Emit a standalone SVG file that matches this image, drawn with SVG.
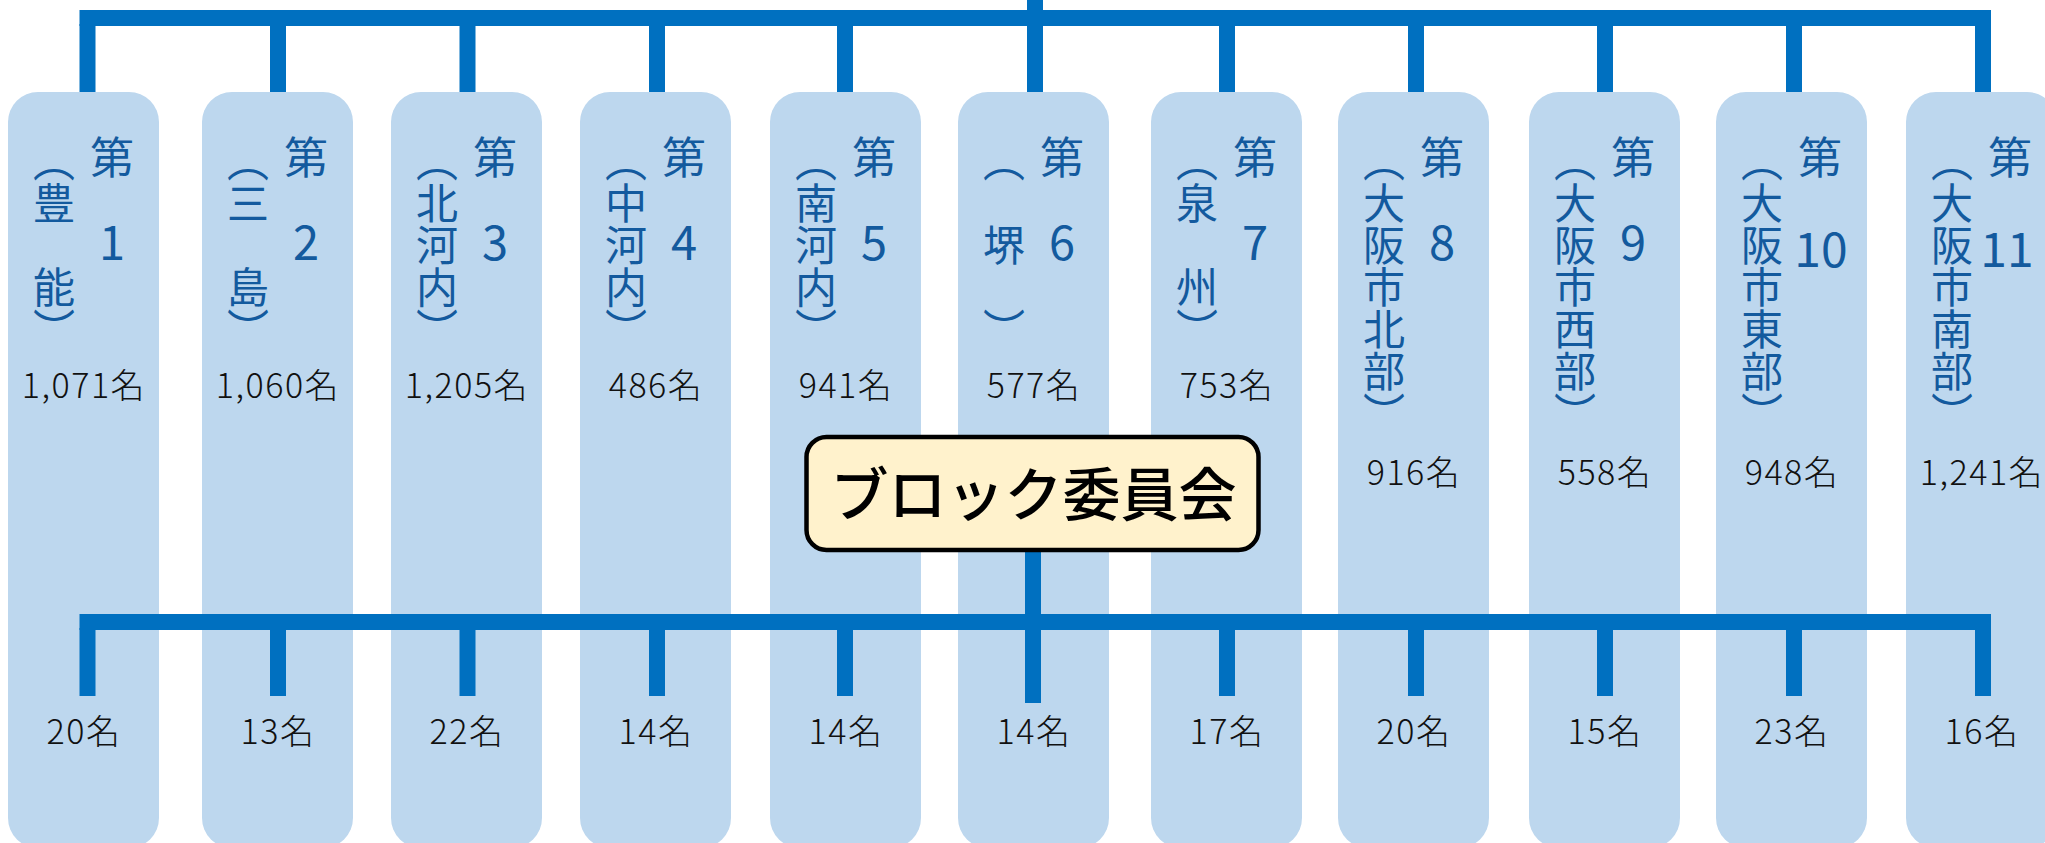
<svg xmlns="http://www.w3.org/2000/svg" width="2045" height="843" viewBox="0 0 2045 843">
<style>
.box{fill:#bdd7ee}
.bar{fill:#0070c0}
.vt{font-family:"Noto Sans CJK JP",sans-serif;font-size:42px;fill:#135a9e;writing-mode:vertical-rl}
.dai{font-family:"Noto Sans CJK JP",sans-serif;font-size:44px;fill:#135a9e;text-anchor:middle}
.num{font-family:"Noto Sans CJK JP",sans-serif;font-size:47px;fill:#135a9e;text-anchor:middle}
.pop{font-family:"Noto Sans CJK JP",sans-serif;font-size:34px;font-weight:300;letter-spacing:1.5px;fill:#111;text-anchor:middle}
.title{font-family:"Noto Sans CJK JP",sans-serif;font-size:58px;font-weight:500;fill:#000;text-anchor:middle}
</style>
<rect width="2045" height="843" fill="#fff"/>
<g id="block1"><rect class="box" x="8" y="92" width="151" height="756" rx="30"/><text class="dai" x="112" y="174">第</text><text class="num" x="112" y="260">1</text><text class="vt" x="54" y="140">（豊　能）</text><text class="pop" x="84" y="398">1,071名</text><text class="pop" x="84" y="744">20名</text></g>
<g id="block2"><rect class="box" x="202" y="92" width="151" height="756" rx="30"/><text class="dai" x="306" y="174">第</text><text class="num" x="306" y="260">2</text><text class="vt" x="248" y="140">（三　島）</text><text class="pop" x="278" y="398">1,060名</text><text class="pop" x="278" y="744">13名</text></g>
<g id="block3"><rect class="box" x="391" y="92" width="151" height="756" rx="30"/><text class="dai" x="495" y="174">第</text><text class="num" x="495" y="260">3</text><text class="vt" x="437" y="140">（北河内）</text><text class="pop" x="467" y="398">1,205名</text><text class="pop" x="467" y="744">22名</text></g>
<g id="block4"><rect class="box" x="580" y="92" width="151" height="756" rx="30"/><text class="dai" x="684" y="174">第</text><text class="num" x="684" y="260">4</text><text class="vt" x="626" y="140">（中河内）</text><text class="pop" x="656" y="398">486名</text><text class="pop" x="656" y="744">14名</text></g>
<g id="block5"><rect class="box" x="770" y="92" width="151" height="756" rx="30"/><text class="dai" x="874" y="174">第</text><text class="num" x="874" y="260">5</text><text class="vt" x="816" y="140">（南河内）</text><text class="pop" x="846" y="398">941名</text><text class="pop" x="846" y="744">14名</text></g>
<g id="block6"><rect class="box" x="958" y="92" width="151" height="756" rx="30"/><text class="dai" x="1062" y="174">第</text><text class="num" x="1062" y="260">6</text><text class="vt" x="1004" y="140">（　堺　）</text><text class="pop" x="1034" y="398">577名</text><text class="pop" x="1034" y="744">14名</text></g>
<g id="block7"><rect class="box" x="1151" y="92" width="151" height="756" rx="30"/><text class="dai" x="1255" y="174">第</text><text class="num" x="1255" y="260">7</text><text class="vt" x="1197" y="140">（泉　州）</text><text class="pop" x="1227" y="398">753名</text><text class="pop" x="1227" y="744">17名</text></g>
<g id="block8"><rect class="box" x="1338" y="92" width="151" height="756" rx="30"/><text class="dai" x="1442" y="174">第</text><text class="num" x="1442" y="260">8</text><text class="vt" x="1384" y="140">（大阪市北部）</text><text class="pop" x="1414" y="485">916名</text><text class="pop" x="1414" y="744">20名</text></g>
<g id="block9"><rect class="box" x="1529" y="92" width="151" height="756" rx="30"/><text class="dai" x="1633" y="174">第</text><text class="num" x="1633" y="260">9</text><text class="vt" x="1575" y="140">（大阪市西部）</text><text class="pop" x="1605" y="485">558名</text><text class="pop" x="1605" y="744">15名</text></g>
<g id="block10"><rect class="box" x="1716" y="92" width="151" height="756" rx="30"/><text class="dai" x="1820" y="174">第</text><text class="num" x="1821" y="267" style="font-size:48px">10</text><text class="vt" x="1762" y="140">（大阪市東部）</text><text class="pop" x="1792" y="485">948名</text><text class="pop" x="1792" y="744">23名</text></g>
<g id="block11"><rect class="box" x="1906" y="92" width="151" height="756" rx="30"/><text class="dai" x="2010" y="174">第</text><text class="num" x="2007" y="267" style="font-size:48px">11</text><text class="vt" x="1952" y="140">（大阪市南部）</text><text class="pop" x="1982" y="485">1,241名</text><text class="pop" x="1982" y="744">16名</text></g>
<g id="connectors">
<rect class="bar" x="1027" y="0" width="16" height="12"/>
<rect class="bar" x="79.5" y="10" width="1911.5" height="16"/>
<rect class="bar" x="79.5" y="24" width="16" height="68"/>
<rect class="bar" x="270" y="24" width="16" height="68"/>
<rect class="bar" x="459.5" y="24" width="16" height="68"/>
<rect class="bar" x="649" y="24" width="16" height="68"/>
<rect class="bar" x="837" y="24" width="16" height="68"/>
<rect class="bar" x="1027" y="24" width="16" height="68"/>
<rect class="bar" x="1219" y="24" width="16" height="68"/>
<rect class="bar" x="1408" y="24" width="16" height="68"/>
<rect class="bar" x="1597" y="24" width="16" height="68"/>
<rect class="bar" x="1786" y="24" width="16" height="68"/>
<rect class="bar" x="1975" y="24" width="16" height="68"/>
<rect class="bar" x="79.5" y="614" width="1911.5" height="16"/>
<rect class="bar" x="79.5" y="628" width="16" height="68"/>
<rect class="bar" x="270" y="628" width="16" height="68"/>
<rect class="bar" x="459.5" y="628" width="16" height="68"/>
<rect class="bar" x="649" y="628" width="16" height="68"/>
<rect class="bar" x="837" y="628" width="16" height="68"/>
<rect class="bar" x="1025" y="548" width="16" height="155"/>
<rect class="bar" x="1219" y="628" width="16" height="68"/>
<rect class="bar" x="1408" y="628" width="16" height="68"/>
<rect class="bar" x="1597" y="628" width="16" height="68"/>
<rect class="bar" x="1786" y="628" width="16" height="68"/>
<rect class="bar" x="1975" y="628" width="16" height="68"/>
</g>
<g id="committee"><rect x="806.5" y="437" width="452" height="113" rx="20" fill="#fff2cc" stroke="#000" stroke-width="4.5"/><text class="title" x="1033.5" y="516">ブロック委員会</text></g>
</svg>
